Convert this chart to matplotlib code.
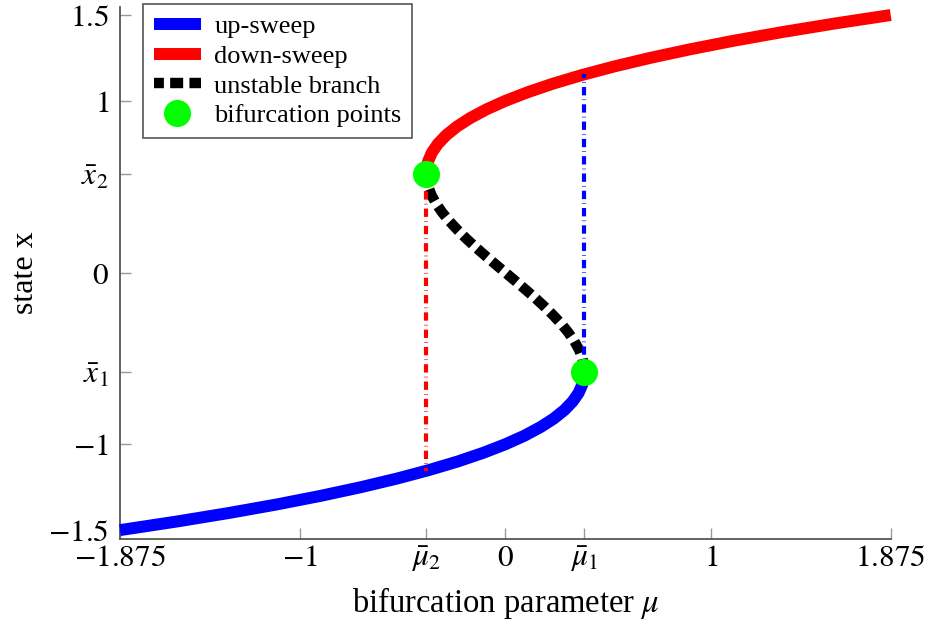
import matplotlib
matplotlib.use("Agg")
import matplotlib.pyplot as plt

plt.rcParams['font.family'] = ['Liberation Serif', 'DejaVu Serif']
plt.rcParams['mathtext.fontset'] = 'stix'

# ---- data ----
# stable lower branch (up-sweep): state x and parameter mu
up_x = [-1.5, -1.45, -1.4, -1.35, -1.3, -1.25, -1.2, -1.15, -1.1, -1.05, -1.0,
        -0.95, -0.9, -0.85, -0.8, -0.75, -0.7, -0.65, -0.62, -0.6, -0.577]
up_mu = [-1.875, -1.599, -1.344, -1.110, -0.897, -0.703, -0.528, -0.371, -0.231, -0.108, 0.0,
         0.093, 0.171, 0.236, 0.288, 0.328, 0.357, 0.375, 0.382, 0.384, 0.385]

# stable upper branch (down-sweep)
down_x = [0.577, 0.6, 0.62, 0.65, 0.7, 0.75, 0.8, 0.85, 0.9, 0.95, 1.0,
          1.05, 1.1, 1.15, 1.2, 1.25, 1.3, 1.35, 1.4, 1.45, 1.5]
down_mu = [-0.385, -0.384, -0.382, -0.375, -0.357, -0.328, -0.288, -0.236, -0.171, -0.093, 0.0,
           0.108, 0.231, 0.371, 0.528, 0.703, 0.897, 1.110, 1.344, 1.599, 1.875]

# unstable middle branch
unst_x = [0.577, 0.55, 0.5, 0.45, 0.4, 0.35, 0.3, 0.25, 0.2, 0.15, 0.1, 0.05, 0.0,
          -0.05, -0.1, -0.15, -0.2, -0.25, -0.3, -0.35, -0.4, -0.45, -0.5, -0.55, -0.577]
unst_mu = [-0.385, -0.384, -0.375, -0.359, -0.336, -0.307, -0.273, -0.234, -0.192, -0.147, -0.099, -0.050, 0.0,
           0.050, 0.099, 0.147, 0.192, 0.234, 0.273, 0.307, 0.336, 0.359, 0.375, 0.384, 0.385]

# bifurcation points (mu, x)
bif_mu = [-0.385, 0.385]
bif_x = [0.577, -0.577]

# jumps (mu, x_start, x_end)
jump_down_mu = -0.385
jump_down_x = [0.577, -1.155]
jump_up_mu = 0.385
jump_up_x = [-0.577, 1.155]

x_ticks = [-1.875, -1, -0.385, 0, 0.385, 1, 1.875]
x_ticklabels = [r'$-1.875$', r'$-1$', r'$\bar{\mu}_2$', r'$0$', r'$\bar{\mu}_1$', r'$1$', r'$1.875$']
y_ticks = [-1.5, -1, -0.577, 0, 0.577, 1, 1.5]
y_ticklabels = [r'$-1.5$', r'$-1$', r'$\bar{x}_1$', r'$0$', r'$\bar{x}_2$', r'$1$', r'$1.5$']

# ---- figure ----
fig = plt.figure(figsize=(9.28, 6.28), dpi=100)
ax = fig.add_axes([0.1293, 0.1422, 0.8305, 0.8467])

lw_main = 8.6
ax.plot(up_mu, up_x, color='#0000ff', lw=lw_main, solid_capstyle='butt', clip_on=False,
        label='up-sweep', zorder=3)
ax.plot(down_mu, down_x, color='#ff0000', lw=lw_main, solid_capstyle='butt', clip_on=False,
        label='down-sweep', zorder=3)
ax.plot(unst_mu, unst_x, color='black', lw=7.5, linestyle=(0.3, (1.25, 0.6)),
        dash_capstyle='butt', label='unstable branch', zorder=3)

ax.plot([jump_down_mu, jump_down_mu], jump_down_x, color='#ff0000', lw=3.0,
        linestyle=(0, (2.0, 1.0, 0.15, 1.0)), dash_capstyle='butt', zorder=4)
ax.plot([jump_up_mu, jump_up_mu], jump_up_x, color='#0000ff', lw=3.0,
        linestyle=(0, (2.0, 1.0, 0.15, 1.0)), dash_capstyle='butt', zorder=4)

ax.plot(bif_mu, bif_x, 'o', color='#00ff00', markersize=19.5, markeredgewidth=0,
        label='bifurcation points', zorder=5, clip_on=False)

ax.set_xlim(-1.875, 1.875)
ax.set_ylim(-1.55, 1.547)

ax.set_xticks(x_ticks)
ax.set_xticklabels(x_ticklabels)
ax.set_yticks(y_ticks)
ax.set_yticklabels(y_ticklabels)

for s in ['top', 'right']:
    ax.spines[s].set_visible(False)
for s in ['left', 'bottom']:
    ax.spines[s].set_color('#555555')
    ax.spines[s].set_linewidth(1.3)

ax.tick_params(axis='both', direction='in', length=8, width=1.0, color='#999999',
               labelsize=22.5, labelcolor='black')
ax.tick_params(axis='x', pad=4)
ax.tick_params(axis='y', pad=8)

ax.set_xlabel(r'bifurcation parameter $\mu$', fontsize=23.5, labelpad=8)
ax.set_ylabel('state x', fontsize=23, labelpad=6)

leg = ax.legend(loc='upper left', bbox_to_anchor=(0.0298, 1.0056), borderaxespad=0,
                fontsize=19, frameon=True, fancybox=False, framealpha=1,
                edgecolor='#555555', handlelength=1.8, handletextpad=0.5,
                labelspacing=0.24, borderpad=0.4)
leg.get_frame().set_linewidth(1.2)

fig.savefig('out.png', dpi=100)
